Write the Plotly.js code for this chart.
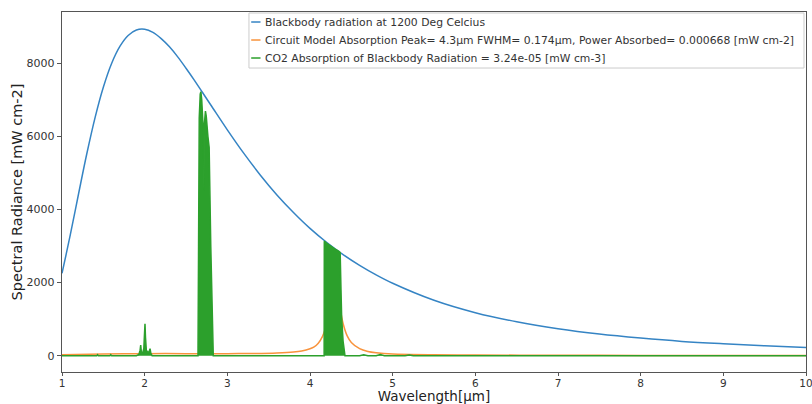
<!DOCTYPE html>
<html>
<head>
<meta charset="utf-8">
<script src="https://cdn.plot.ly/plotly-3.0.1.min.js"></script>
<style>html,body{margin:0;padding:0;background:#fff;}#chart{width:812px;height:404px;}</style>
</head>
<body>
<div id="chart"></div>
<script>
// Blackbody radiation at 1200 °C
const bbWave = [1.0,1.1,1.2,1.3,1.4,1.5,1.6,1.7,1.8,1.9,2.0,2.1,2.2,2.3,2.4,2.5,2.6,2.7,2.8,3.0,3.2,3.4,3.6,3.8,4.0,4.2,4.4,4.6,4.8,5.0,5.5,6.0,6.5,7.0,7.5,8.0,8.5,9.0,9.5,10.0];
const bbRad  = [2250,3300,4420,5520,6510,7340,7990,8455,8755,8905,8925,8840,8670,8445,8170,7860,7535,7195,6855,6175,5530,4935,4395,3915,3480,3100,2765,2470,2210,1980,1515,1175,925,735,590,480,390,325,270,226];

// Circuit model absorption (orange)
const circWave = [1,1.5,2,2.5,3,3.3,3.6,3.8,3.9,4.0,4.05,4.1,4.15,4.2,4.25,4.3,4.35,4.4,4.45,4.5,4.6,4.7,4.8,5.0,5.5,6,7,8,9,10];
const circAbs  = [25,45,55,55,55,60,75,100,130,190,240,340,520,850,1400,1900,1450,880,540,360,190,115,80,45,25,18,10,7,5,4];

// CO2 absorption of blackbody radiation (green)
const co2Wave = [1.0,1.42,1.43,1.44,1.58,1.59,1.60,1.90,1.93,1.945,1.952,1.96,1.975,1.99,1.998,2.004,2.01,2.02,2.04,2.055,2.065,2.075,2.09,
                 2.645,2.652,2.66,2.672,2.68,2.69,2.705,2.713,2.717,2.721,2.735,2.745,2.765,2.78,2.80,2.818,2.83,
                 4.171,4.173,4.2,4.25,4.3,4.35,4.365,4.375,4.383,4.40,4.423,4.6,4.65,4.7,4.8,4.85,4.9,5.15,5.2,5.25,10.0];
const co2Abs  = [0,0,25,0,0,25,0,0,30,150,290,100,60,200,600,870,500,150,80,120,190,60,0,
                 0,3000,6500,7150,7215,7000,6500,6000,4500,6300,6690,6550,6000,5700,2970,600,0,
                 0,3130,3080,2990,2920,2850,2820,1800,1050,400,0,0,25,0,0,30,0,0,20,0,0];

const xTicks = [1,2,3,4,5,6,7,8,9,10];
const yTicks = [0,2000,4000,6000,8000];

const names = [
  'Blackbody radiation at 1200 Deg Celcius',
  'Circuit Model Absorption Peak= 4.3\u00b5m FWHM= 0.174\u00b5m, Power Absorbed= 0.000668 [mW cm-2]',
  'CO2 Absorption of Blackbody Radiation = 3.24e-05 [mW cm-3]'
];
const colors = ['#3584c4', '#f8933c', '#2ca02c'];

const traces = [
  {x: bbWave, y: bbRad, mode: 'lines', name: names[0], line: {color: colors[0], width: 1.5, shape: 'spline', smoothing: 1}},
  {x: circWave, y: circAbs, mode: 'lines', name: names[1], line: {color: colors[1], width: 1.5, shape: 'spline', smoothing: 0.8}},
  {x: co2Wave, y: co2Abs, mode: 'lines', name: names[2], fill: 'tozeroy', fillcolor: colors[2], line: {color: colors[2], width: 1.5}}
];

// legend drawn as a boxed key (paper coordinates)
const legLeft = 0.2513, legRight = 0.9973, legTop = 0.9972, legBottom = 0.8444;
const rowY = [0.9722, 0.9222, 0.8722];
const shapes = [{type: 'rect', xref: 'paper', yref: 'paper', x0: legLeft, x1: legRight, y0: legBottom, y1: legTop,
                 line: {color: '#cccccc', width: 1}, fillcolor: 'rgba(255,255,255,0.85)', layer: 'above'}];
const annotations = [];
names.forEach((n, i) => {
  shapes.push({type: 'line', xref: 'paper', yref: 'paper', x0: legLeft + 0.003, x1: legLeft + 0.0155, y0: rowY[i], y1: rowY[i],
               line: {color: colors[i], width: 1.5}, layer: 'above'});
  annotations.push({xref: 'paper', yref: 'paper', x: legLeft + 0.019, y: rowY[i], xanchor: 'left', yanchor: 'middle',
                    text: n, showarrow: false, font: {family: 'DejaVu Sans', size: 10.8, color: '#333'}});
});

const axisCommon = {
  showgrid: false, zeroline: false, showline: true, mirror: true,
  linecolor: '#555', linewidth: 1.2, ticks: 'outside', ticklen: 4, tickcolor: '#555',
  ticklabeloverflow: 'allow',
  tickfont: {family: 'DejaVu Sans', size: 11, color: '#333'}
};

const layout = {
  width: 812, height: 404,
  margin: {l: 62, r: 6, t: 12, b: 32},
  paper_bgcolor: '#fff', plot_bgcolor: '#fff',
  font: {family: 'DejaVu Sans', color: '#333'},
  showlegend: false,
  xaxis: Object.assign({}, axisCommon, {
    range: [1, 10], tickvals: xTicks, ticktext: xTicks.map(String), ticklen: 3,
    ticklabelstandoff: -2,
    tickfont: {family: 'DejaVu Sans', size: 10.5, color: '#333'},
    title: {text: 'Wavelength[\u00b5m]', font: {family: 'DejaVu Sans', size: 13.5, color: '#222'}, standoff: 4}
  }),
  yaxis: Object.assign({}, axisCommon, {
    range: [-447, 9397], tickvals: yTicks, ticktext: yTicks.map(String),
    title: {text: 'Spectral Radiance [mW cm-2]', font: {family: 'DejaVu Sans', size: 14.5, color: '#222'}, standoff: 0}
  }),
  shapes: shapes,
  annotations: annotations
};

Plotly.newPlot('chart', traces, layout, {displayModeBar: false, staticPlot: true});
</script>
</body>
</html>
